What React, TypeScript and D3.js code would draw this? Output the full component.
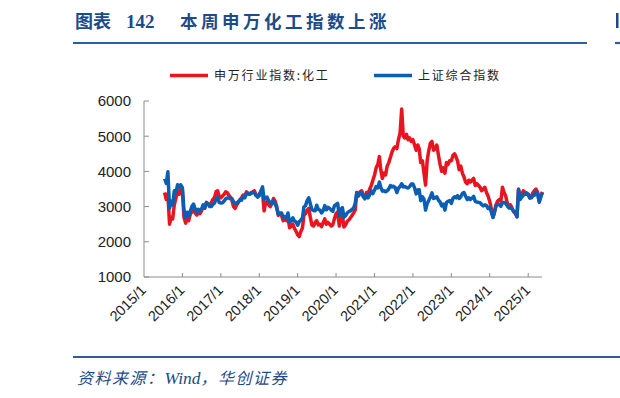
import React, { useEffect, useRef } from 'react';
import * as d3 from 'd3';

// half-monthly closes (1st and 16th of each month); 2015 starts mid-July, 2025 ends mid-May
const chem2015 = [3400, 3200, 3350, 2500, 2700, 2650, 3050, 3250, 3450, 3350, 3500];
const chem2016 = [3450, 2700, 2530, 2680, 2600, 2780, 2850, 2900, 2820, 2760, 2820, 2800, 2880, 3000, 2950, 3120, 3080, 3060, 3100, 3200, 3250, 3420, 3450, 3280];
const chem2017 = [3250, 3300, 3350, 3420, 3400, 3330, 3270, 3180, 3000, 2950, 3050, 3120, 3200, 3250, 3330, 3300, 3420, 3380, 3350, 3400, 3420, 3450, 3320, 3300];
const chem2018 = [3350, 3420, 3400, 2880, 3100, 3150, 3050, 3000, 3100, 3230, 3150, 3000, 2750, 2800, 2750, 2600, 2650, 2600, 2700, 2400, 2450, 2500, 2380, 2300];
const chem2019 = [2200, 2150, 2300, 2400, 2750, 2800, 2900, 2950, 2700, 2480, 2450, 2550, 2600, 2480, 2500, 2430, 2550, 2650, 2500, 2550, 2500, 2450, 2480, 2650];
const chem2020 = [2800, 2850, 2450, 2700, 2750, 2420, 2480, 2580, 2620, 2680, 2750, 2820, 2900, 3400, 3300, 3420, 3450, 3280, 3250, 3400, 3380, 3500, 3600, 3750];
const chem2021 = [3900, 4100, 4200, 4420, 4050, 3800, 3950, 3900, 4150, 4250, 4400, 4550, 4650, 4700, 4650, 4900, 5100, 5770, 5000, 4950, 5050, 4900, 4950, 4850];
const chem2022 = [4900, 4750, 4600, 4750, 4650, 4250, 4300, 3950, 3610, 4300, 4600, 4800, 4850, 4600, 4650, 4750, 4450, 4200, 4000, 4100, 3950, 4250, 4200, 4300];
const chem2023 = [4300, 4450, 4500, 4400, 4300, 4050, 4150, 3950, 3850, 3700, 3650, 3750, 3700, 3750, 3800, 3600, 3650, 3600, 3550, 3450, 3500, 3550, 3400, 3300];
const chem2024 = [3150, 2950, 2700, 2850, 3050, 3150, 3200, 3150, 3550, 3400, 3300, 3100, 3000, 3050, 2950, 2850, 2800, 2710, 3500, 3250, 3350, 3450, 3400, 3350];
const chem2025 = [3350, 3250, 3300, 3400, 3450, 3500, 3400, 3150, 3300, 3420];

const sse2015 = [3800, 3660, 3990, 2950, 3150, 3050, 3450, 3400, 3620, 3550, 3620];
const sse2016 = [3540, 2900, 2690, 2840, 2730, 2870, 3010, 3070, 2940, 2830, 2920, 2880, 2930, 3050, 2960, 3110, 3080, 3000, 3000, 3060, 3100, 3210, 3270, 3120];
const sse2017 = [3100, 3110, 3160, 3220, 3240, 3250, 3220, 3230, 3140, 3090, 3100, 3140, 3190, 3180, 3290, 3250, 3360, 3370, 3350, 3380, 3390, 3400, 3320, 3270];
const sse2018 = [3310, 3440, 3560, 3200, 3260, 3270, 3160, 3110, 3080, 3170, 3080, 2960, 2780, 2820, 2820, 2700, 2720, 2680, 2820, 2550, 2600, 2680, 2590, 2570];
const sse2019 = [2470, 2570, 2620, 2680, 2990, 3020, 3170, 3250, 3080, 2920, 2890, 2880, 3040, 2920, 2900, 2820, 2890, 3030, 2910, 2980, 2950, 2900, 2870, 3020];
const sse2020 = [3060, 3090, 2750, 2920, 2970, 2700, 2740, 2820, 2860, 2880, 2920, 2960, 3090, 3400, 3310, 3370, 3400, 3290, 3220, 3330, 3250, 3340, 3450, 3370];
const sse2021 = [3470, 3570, 3530, 3700, 3550, 3440, 3450, 3420, 3450, 3500, 3600, 3560, 3580, 3540, 3400, 3520, 3570, 3650, 3560, 3570, 3540, 3530, 3570, 3640];
const sse2022 = [3640, 3540, 3360, 3470, 3480, 3170, 3280, 3210, 2900, 3080, 3180, 3280, 3390, 3230, 3250, 3280, 3180, 3130, 3020, 3070, 2900, 3120, 3150, 3170];
const sse2023 = [3090, 3230, 3280, 3250, 3310, 3230, 3280, 3370, 3400, 3300, 3200, 3250, 3200, 3240, 3290, 3150, 3130, 3120, 3110, 3060, 3020, 3050, 3030, 2950];
const sse2024 = [2980, 2850, 2690, 2860, 3020, 3060, 3060, 3010, 3110, 3120, 3090, 3020, 2960, 2970, 2930, 2870, 2840, 2710, 3480, 3200, 3270, 3330, 3350, 3390];
const sse2025 = [3350, 3240, 3250, 3320, 3320, 3420, 3350, 3120, 3280, 3400];

const years = [2015, 2016, 2017, 2018, 2019, 2020, 2021, 2022, 2023, 2024, 2025];
const chemByYear = [chem2015, chem2016, chem2017, chem2018, chem2019, chem2020, chem2021, chem2022, chem2023, chem2024, chem2025];
const sseByYear = [sse2015, sse2016, sse2017, sse2018, sse2019, sse2020, sse2021, sse2022, sse2023, sse2024, sse2025];

const xTickLabels = ['2015/1', '2016/1', '2017/1', '2018/1', '2019/1', '2020/1', '2021/1', '2022/1', '2023/1', '2024/1', '2025/1'];
const yTicks = [1000, 2000, 3000, 4000, 5000, 6000];
const seriesNames = ['申万行业指数:化工', '上证综合指数'];

const RED = '#e8141f';
const BLUE = '#0a5fb4';
const NAVY = '#1b4b8a';

function toPoints(rows) {
  const pts = [];
  rows.forEach((arr, i) => {
    const yr = years[i];
    const first = yr === 2015 ? 24 - arr.length : 0;
    arr.forEach((v, k) => {
      const slot = first + k;
      pts.push({ date: new Date(yr, Math.floor(slot / 2), slot % 2 ? 16 : 1), value: v });
    });
  });
  return pts;
}

const App = () => {
  const svgRef = useRef();

  useEffect(() => {
    document.body.style.margin = '0';
    const svg = d3.select(svgRef.current);
    svg.selectAll('*').remove();

    const x = d3.scaleTime()
      .domain([new Date(2015, 0, 1), new Date(2025, 4, 12)])
      .range([144, 542]);
    const y = d3.scaleLinear().domain([1000, 6000]).range([277, 101]);

    // title block
    const title = svg.append('text')
      .attr('x', 75)
      .attr('y', 28)
      .style('fill', NAVY)
      .style('font-weight', 'bold');
    title.append('tspan')
      .style('font-family', '"Noto Sans CJK SC"')
      .style('font-size', '18px')
      .text('图表');
    title.append('tspan')
      .attr('x', 126)
      .style('font-family', '"Liberation Serif"')
      .style('font-size', '19px')
      .text('142');
    title.append('tspan')
      .attr('x', 180)
      .style('font-family', '"Noto Sans CJK SC"')
      .style('font-size', '17.5px')
      .style('letter-spacing', '3.5px')
      .text('本周申万化工指数上涨');

    // edge of the neighbouring panel's heading
    svg.append('rect')
      .attr('x', 616).attr('y', 13).attr('width', 2.5).attr('height', 15)
      .style('fill', NAVY);

    svg.append('line')
      .attr('x1', 73).attr('x2', 587).attr('y1', 43).attr('y2', 43)
      .style('stroke', '#2d5f9b').style('stroke-width', 2.2);
    svg.append('line')
      .attr('x1', 615).attr('x2', 620).attr('y1', 43).attr('y2', 43)
      .style('stroke', '#2d5f9b').style('stroke-width', 2.2);

    // legend
    const legend = svg.append('g');
    [[170, 214, RED], [374, 418, BLUE]].forEach(([lx, tx, c], i) => {
      legend.append('line')
        .attr('x1', lx).attr('x2', lx + 38).attr('y1', 75.5).attr('y2', 75.5)
        .style('stroke', c).style('stroke-width', 3.5);
      legend.append('text')
        .attr('x', tx).attr('y', 80)
        .style('font-family', '"Noto Sans CJK SC"')
        .style('font-size', '12px')
        .style('letter-spacing', '1.8px')
        .style('fill', '#222')
        .text(seriesNames[i]);
    });

    // axes
    const axisColor = '#8c8c8c';
    svg.append('line')
      .attr('x1', 144).attr('x2', 144).attr('y1', 101).attr('y2', 277)
      .style('stroke', axisColor);
    svg.append('line')
      .attr('x1', 144).attr('x2', 542).attr('y1', 277).attr('y2', 277)
      .style('stroke', axisColor);

    yTicks.forEach(t => {
      svg.append('line')
        .attr('x1', 144).attr('x2', 149).attr('y1', y(t)).attr('y2', y(t))
        .style('stroke', axisColor);
      svg.append('text')
        .attr('x', 131).attr('y', y(t)).attr('dy', '0.36em')
        .attr('text-anchor', 'end')
        .style('font-family', '"Liberation Sans", Arial, sans-serif')
        .style('font-size', '15px')
        .style('fill', '#222')
        .text(t);
    });

    xTickLabels.forEach((lab, i) => {
      const tx = x(new Date(years[i], 0, 1));
      if (i > 0) {
        svg.append('line')
          .attr('x1', tx).attr('x2', tx).attr('y1', 277).attr('y2', 273)
          .style('stroke', axisColor);
      }
      svg.append('text')
        .attr('transform', `translate(${tx + 3},${291}) rotate(-45)`)
        .attr('text-anchor', 'end')
        .style('font-family', '"Liberation Sans", Arial, sans-serif')
        .style('font-size', '14.5px')
        .style('fill', '#222')
        .text(lab);
    });

    // series
    const line = d3.line()
      .x(d => x(d.date))
      .y(d => y(d.value));

    [[chemByYear, RED], [sseByYear, BLUE]].forEach(([rows, c]) => {
      svg.append('path')
        .datum(toPoints(rows))
        .attr('d', line)
        .style('fill', 'none')
        .style('stroke', c)
        .style('stroke-width', 3.5)
        .style('stroke-linejoin', 'round');
    });

    // source footer
    svg.append('line')
      .attr('x1', 73).attr('x2', 620).attr('y1', 357).attr('y2', 357)
      .style('stroke', '#2d5f9b').style('stroke-width', 2);
    const src = svg.append('text')
      .attr('x', 77).attr('y', 384)
      .style('fill', NAVY)
      .style('font-style', 'italic');
    src.append('tspan').style('font-family', '"Noto Sans CJK SC"').style('font-size', '16px').style('letter-spacing', '1.5px').text('资料来源：');
    src.append('tspan').style('font-family', '"Liberation Serif"').style('font-size', '17.5px').text('Wind');
    src.append('tspan').style('font-family', '"Noto Sans CJK SC"').style('font-size', '16px').style('letter-spacing', '1.5px').text('，华创证券');

    return () => {
      svg.selectAll('*').remove();
    };
  }, []);

  return (
    <svg ref={svgRef} width={620} height={398} style={{ display: 'block', background: '#fff' }}></svg>
  );
};

export default App;
